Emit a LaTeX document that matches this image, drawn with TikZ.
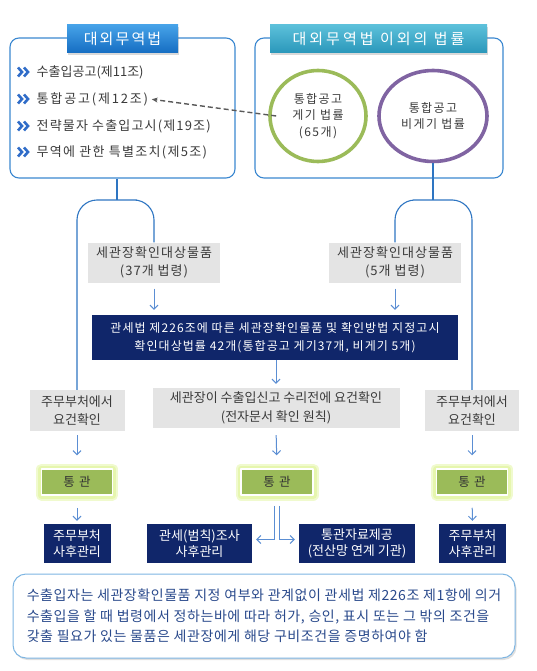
\documentclass[tikz,border=0pt]{standalone}
\usepackage{fontspec}
\setmainfont{Noto Sans CJK KR}
\usetikzlibrary{arrows.meta,shapes.geometric,shadows}

\definecolor{boxline}{HTML}{3A87D0}
\definecolor{chevblue}{HTML}{2F6CC8}
\definecolor{tabtopA}{HTML}{46A2E8}
\definecolor{tabbotA}{HTML}{156DC2}
\definecolor{tabtopB}{HTML}{5CC0DA}
\definecolor{tabbotB}{HTML}{2A97BA}
\definecolor{ringgreen}{HTML}{9BBB59}
\definecolor{ringpurple}{HTML}{8064A2}
\definecolor{grayfill}{HTML}{E4E4E4}
\definecolor{navyfill}{HTML}{10266A}
\definecolor{passfill}{HTML}{9BBB59}
\definecolor{passglow}{HTML}{E6F6AE}
\definecolor{linkblue}{HTML}{2E75C2}
\definecolor{arrowblue}{HTML}{5B8ED3}
\definecolor{notetext}{HTML}{2A4A8C}
\definecolor{noteline}{HTML}{7DB5E2}
\definecolor{darktext}{HTML}{3A3A3A}

\newcommand{\kfont}[2]{\fontsize{#1}{#2}\selectfont}

\tikzset{
  lawbox/.style={draw=boxline, line width=1.1pt, rounded corners=9pt, inner sep=0pt},
  lawtab/.style={text=white, inner sep=0pt,
    drop shadow={opacity=0.3, shadow xshift=0.5pt, shadow yshift=-2pt},
    font=\kfont{15}{15}},
  itemtext/.style={anchor=west, inner sep=1.5pt, text=darktext, font=\kfont{13}{13}},
  chevline/.style={draw=chevblue, line width=2.6pt, line join=miter},
  chevs/.pic={
    \draw[chevline] (-6,-4.5) -- (-2,0) -- (-6,4.5);
    \draw[chevline] (0,-4.5) -- (4,0) -- (0,4.5);
  },
  ring/.style={ellipse, draw=#1, line width=3.6pt, inner sep=0pt, align=center, text=darktext,
    font=\kfont{12}{16.5}\addfontfeature{LetterSpace=12}},
  graybox/.style={fill=grayfill, inner sep=0pt, align=center, text=darktext, font=\kfont{13}{18.5}},
  navybox/.style={fill=navyfill, inner sep=0pt, align=center, text=white, font=\kfont{13}{16.5}},
  passbox/.style={fill=passfill, draw=white, line width=1.5pt, inner sep=0pt, minimum height=26pt,
    text=black!80, font=\kfont{12.5}{12.5}\addfontfeature{LetterSpace=10}, line join=round,
    preaction={draw=passglow!60, line width=11pt},
    preaction={draw=passglow, line width=7pt}},
  link/.style={draw=linkblue, line width=1.1pt},
  arr/.style={draw=arrowblue, line width=1pt, -{Straight Barb[length=4pt, width=8pt]}},
  dasharr/.style={draw=black!65, line width=1.4pt, dash pattern=on 5pt off 3pt,
    -{Stealth[length=6pt, width=5pt]}},
  notebox/.style={draw=noteline, line width=1pt, rounded corners=13pt, fill=white, align=left,
    text=notetext, font=\kfont{14}{20.5}\addfontfeature{LetterSpace=4},
    drop shadow={opacity=0.25, shadow xshift=1.5pt, shadow yshift=-2pt}}
}

\begin{document}
\begin{tikzpicture}[x=1pt, y=-1pt]
\useasboundingbox (0,0) rectangle (537,671);

% 대외무역법
\node[lawbox, minimum width=225pt, minimum height=140pt] (lawA) at (122.5,108) {};
\node[lawtab, top color=tabtopA, bottom color=tabbotA, minimum width=111pt, minimum height=28pt]
  (tabA) at (122.5,39) {\addfontfeature{LetterSpace=14}대외무역법};
\pic (chA) at (24,72) {chevs};
\pic (chB) at (24,99) {chevs};
\pic (chC) at (24,126) {chevs};
\pic (chD) at (24,152) {chevs};
\node[itemtext] (itA) at (35,72) {수출입공고(제11조)};
\node[itemtext] (itB) at (35,99) {\addfontfeature{LetterSpace=14}통합공고(제12조)};
\node[itemtext] (itC) at (35,126) {\addfontfeature{LetterSpace=9}전략물자 수출입고시(제19조)};
\node[itemtext] (itD) at (35,152) {\addfontfeature{LetterSpace=10}무역에 관한 특별조치(제5조)};

% 대외무역법 이외의 법률
\node[lawbox, minimum width=248pt, minimum height=140pt] (lawB) at (379,108) {};
\node[lawtab, top color=tabtopB, bottom color=tabbotB, minimum width=217pt, minimum height=28pt]
  (tabB) at (378.5,39) {\addfontfeature{LetterSpace=20}대외무역법 이외의 법률};
\node[ring=ringgreen, minimum width=96pt, minimum height=91pt] (ringA) at (318,116)
  {통합공고\\게기 법률\\(65개)};
\node[ring=ringpurple, minimum width=108pt, minimum height=91pt] (ringB) at (433,116)
  {통합공고\\비게기 법률};
\draw[dasharr, shorten >=2pt] ([xshift=8pt]ringA.west) -- (itB.east);

% 확인대상
\node[graybox, minimum width=132pt, minimum height=40pt,
  font=\kfont{13}{18.5}\addfontfeature{LetterSpace=8}] (grayA) at (154,262.5)
  {세관장확인대상물품\\(37개 법령)};
\node[graybox, minimum width=132pt, minimum height=40pt,
  font=\kfont{13}{18.5}\addfontfeature{LetterSpace=8}] (grayB) at (395,262.5)
  {세관장확인대상물품\\(5개 법령)};
\node[navybox, minimum width=366pt, minimum height=45pt,
  font=\kfont{12}{17.5}\addfontfeature{LetterSpace=9}] (decree) at (275,337.5)
  {관세법 제226조에 따른 세관장확인물품 및 확인방법 지정고시\\확인대상법률 42개(통합공고 게기37개, 비게기 5개)};

\coordinate (forkA) at (117,200);
\coordinate (forkB) at (433,200);
\draw[link] (forkA |- lawA.south) -- (forkA);
\draw[link] (ringB.south) -- (forkB);

% 요건확인
\node[graybox, minimum width=95pt, minimum height=41pt] (reqA) at (77,410.5)
  {주무부처에서\\요건확인};
\node[graybox, minimum width=247pt, minimum height=40pt] (check) at (276,408)
  {세관장이 수출입신고 수리전에 요건확인\\(전자문서 확인 원칙)};
\node[graybox, minimum width=94pt, minimum height=41pt] (reqB) at (472,410.5)
  {주무부처에서\\요건확인};

\draw[link, rounded corners=20pt] (grayA.north) |- (forkA) -| (reqA.north);
\draw[link, rounded corners=20pt] (grayB.north) |- (forkB) -| (reqB.north);

% 통관
\node[passbox, minimum width=71pt] (passA) at (77,482) {통 관};
\node[passbox, minimum width=72pt] (passM) at (277,482) {통 관};
\node[passbox, minimum width=71pt] (passB) at (472,482) {통 관};

% 사후관리
\node[navybox, minimum width=67pt, minimum height=39pt] (postA) at (77,543.5) {주무부처\\사후관리};
\node[navybox, minimum width=105pt, minimum height=39pt] (postM) at (199.5,543.5) {관세(범칙)조사\\사후관리};
\node[navybox, minimum width=116pt, minimum height=39pt] (postN) at (357,543.5) {통관자료제공\\(전산망 연계 기관)};
\node[navybox, minimum width=67pt, minimum height=39pt] (postB) at (472.5,543.5) {주무부처\\사후관리};

\draw[arr, shorten <=6pt, shorten >=5pt] (grayA.south) -- (grayA.south |- decree.north);
\draw[arr, shorten <=6pt, shorten >=5pt] (grayB.south) -- (grayB.south |- decree.north);
\draw[arr, shorten >=4pt] (check.north |- decree.south) -- (check.north);
\draw[arr, shorten <=4pt, shorten >=13pt] (reqA.south) -- (passA.north);
\draw[arr, shorten <=7pt, shorten >=13pt] (check.south) -- (passM.north);
\draw[arr, shorten <=4pt, shorten >=13pt] (reqB.south) -- (passB.north);
\draw[arr, shorten <=12pt, shorten >=3pt] (passA.south) -- (postA.north);
\draw[arr, shorten <=12pt, shorten >=3pt] (passB.south) -- (postB.north);
\draw[arr, shorten >=4pt] ([xshift=-2.5pt, yshift=-10pt]passM.south) |- ([yshift=4pt]postM.east);
\draw[arr, shorten >=4pt] ([xshift=2.5pt, yshift=-10pt]passM.south) |- ([yshift=4pt]postN.west);

% 안내
\node[notebox, minimum width=502pt, minimum height=84pt] (note) at (264,616)
  {수출입자는 세관장확인물품 지정 여부와 관계없이 관세법 제226조 제1항에 의거\\
   수출입을 할 때 법령에서 정하는바에 따라 허가, 승인, 표시 또는 그 밖의 조건을\\
   갖출 필요가 있는 물품은 세관장에게 해당 구비조건을 증명하여야 함};
\end{tikzpicture}
\end{document}
